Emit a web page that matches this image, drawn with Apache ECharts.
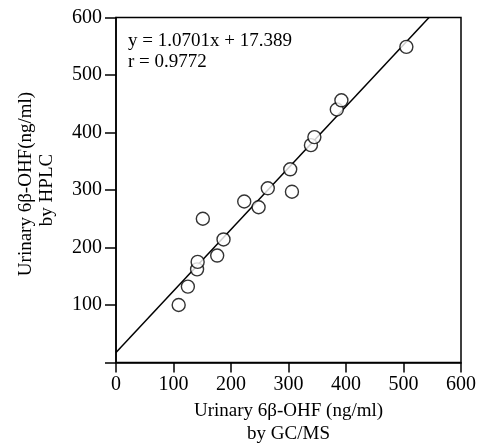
<!DOCTYPE html>
<html>
<head>
<meta charset="utf-8">
<script src="https://cdn.jsdelivr.net/npm/echarts@6/dist/echarts.min.js"></script>
<style>
html,body{margin:0;padding:0;background:#fff;}
#chart{width:481px;height:443px;}
</style>
</head>
<body>
<div id="chart"></div>
<script>
// GC/MS values (x) and HPLC values (y), ng/ml
var gcms = [109, 125, 141, 142, 151, 176, 187, 223, 248, 264, 303, 306, 339, 345, 384, 392, 505];
var hplc = [100, 132, 162, 175, 250, 186, 214, 280, 270, 303, 336, 297, 378, 392, 440, 456, 549];
// regression line endpoints (y = 1.0701x + 17.389)
var fitX = [0, 544.4];
var fitY = [17.389, 600];
var xTicks = [0, 100, 200, 300, 400, 500, 600];
var yTicks = [0, 100, 200, 300, 400, 500, 600];
var eqText = ['y = 1.0701x + 17.389', 'r = 0.9772'];

var FONT = 'Liberation Serif';
var chart = echarts.init(document.getElementById('chart'), null, {renderer: 'canvas'});
var points = gcms.map(function (v, i) { return [v, hplc[i]]; });
var fit = fitX.map(function (v, i) { return [v, fitY[i]]; });

chart.setOption({
  animation: false,
  backgroundColor: '#fff',
  title: {
    text: eqText.join('\n'),
    left: 128, top: 31, padding: 0,
    textStyle: {fontFamily: FONT, fontSize: 19, fontWeight: 'normal', color: '#000', lineHeight: 21}
  },
  grid: {
    left: 116, right: 20, top: 17.5, bottom: 80.5,
    outerBoundsMode: 'none', containLabel: false,
    show: true, borderColor: '#000', borderWidth: 1.5, backgroundColor: 'transparent'
  },
  xAxis: {
    type: 'value', min: xTicks[0], max: xTicks[xTicks.length - 1], interval: 100,
    name: 'Urinary 6β-OHF (ng/ml)\nby GC/MS',
    nameLocation: 'middle', nameGap: 35,
    nameTextStyle: {fontFamily: FONT, fontSize: 19, color: '#000', lineHeight: 23},
    axisLine: {show: true, onZero: false, lineStyle: {color: '#000', width: 1.5}},
    axisTick: {show: true, inside: false, length: 10, lineStyle: {color: '#000', width: 1.5}},
    axisLabel: {fontFamily: FONT, fontSize: 20, color: '#000', margin: 12},
    splitLine: {show: false}
  },
  yAxis: {
    type: 'value', min: yTicks[0], max: yTicks[yTicks.length - 1], interval: 100,
    name: '{a|Urinary 6β-OHF(ng/ml)}\n{b|by HPLC}',
    nameLocation: 'middle', nameGap: 58,
    nameTextStyle: {
      fontFamily: FONT, fontSize: 19, color: '#000', lineHeight: 21,
      rich: {
        a: {fontFamily: FONT, fontSize: 19, color: '#000', lineHeight: 21, padding: [0, 0, 0, 12]},
        b: {fontFamily: FONT, fontSize: 19, color: '#000', lineHeight: 21}
      }
    },
    axisLine: {show: true, onZero: false, lineStyle: {color: '#000', width: 1.5}},
    axisTick: {show: true, inside: false, length: 11, lineStyle: {color: '#000', width: 1.5}},
    axisLabel: {fontFamily: FONT, fontSize: 20, color: '#000', margin: 14,
      formatter: function (v) { return v === 0 ? '' : String(v); }},
    splitLine: {show: false}
  },
  series: [
    {
      type: 'line', data: fit, symbol: 'none', z: 2,
      lineStyle: {color: '#000', width: 1.5}
    },
    {
      type: 'scatter', data: points, symbol: 'circle', symbolSize: 13, z: 3,
      itemStyle: {color: '#fff', borderColor: '#000', borderWidth: 1.4}
    }
  ]
});
</script>
</body>
</html>
